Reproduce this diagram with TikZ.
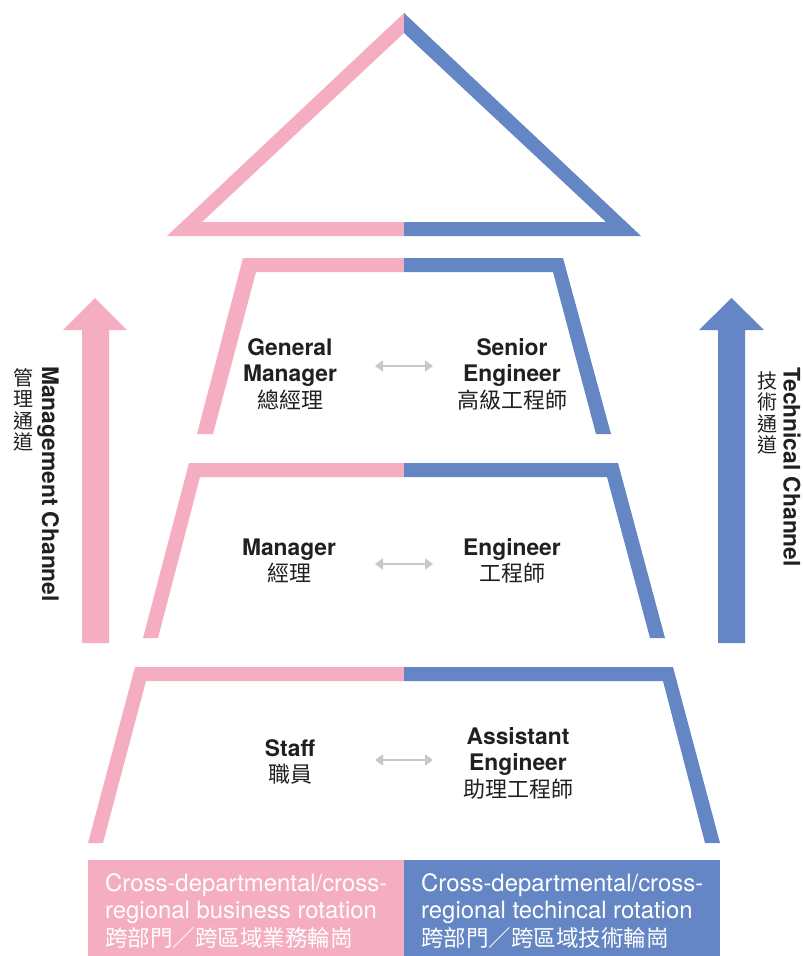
\documentclass[tikz,border=0pt]{standalone}
\usepackage{fontspec}
\setmainfont{TeX Gyre Heros}
\newfontfamily\cjk{Noto Sans CJK TC}
\usetikzlibrary{arrows.meta}
\definecolor{pinkc}{RGB}{244,173,193}
\definecolor{bluec}{RGB}{100,134,196}
\definecolor{txt}{RGB}{35,31,32}
\definecolor{grayarr}{RGB}{200,200,200}
\newcommand{\lblcjk}[1]{{\fontsize{22}{26.5}\selectfont\cjk\mdseries #1}}
\newcommand{\boxcjk}[1]{{\fontsize{22.5}{27.5}\selectfont\cjk #1}}
\tikzset{
  lbl/.style={align=center, text=txt, font=\fontsize{22.8}{26.5}\selectfont\bfseries, inner sep=0pt},
  boxtxt/.style={align=left, text=white, font=\fontsize{23.9}{27.5}\selectfont, inner sep=0pt, anchor=west},
  vtxt/.style={text=txt, font=\fontsize{22.8}{26}\selectfont\bfseries, rotate=-90, inner sep=0pt},
  vcjk/.style={align=center, text=txt, font=\fontsize{20}{21.5}\selectfont\cjk, inner sep=0pt},
  swap/.style={grayarr, line width=1.5pt, {Triangle[length=8pt,width=11pt]}-{Triangle[length=8pt,width=11pt]}}
}
\begin{document}
\begin{tikzpicture}[x=1pt,y=-1pt]
\path[use as bounding box] (0,0) rectangle (803,956);
% roof triangle
\fill[pinkc] (404,13) -- (167,236) -- (404,236) -- (404,222) -- (202,222) -- (404,33) -- cycle;
\fill[bluec] (404,13) -- (641,236) -- (404,236) -- (404,222) -- (606,222) -- (404,33) -- cycle;
% top trapezoid
\fill[pinkc] (404,258) -- (243,258) -- (197,434) -- (213,434) -- (256,272) -- (404,272) -- cycle;
\fill[bluec] (404,258) -- (563,258) -- (611,434) -- (596,434) -- (553,272) -- (404,272) -- cycle;
% middle trapezoid
\fill[pinkc] (404,463) -- (189,463) -- (143,638) -- (158,638) -- (200,477) -- (404,477) -- cycle;
\fill[bluec] (404,463) -- (618,463) -- (665,638) -- (650,638) -- (607,477) -- (404,477) -- cycle;
% bottom trapezoid
\fill[pinkc] (404,667) -- (135,667) -- (88,843) -- (103,843) -- (146,681) -- (404,681) -- cycle;
\fill[bluec] (404,667) -- (673,667) -- (720,843) -- (705,843) -- (663,681) -- (404,681) -- cycle;
% channel arrows
\fill[pinkc] (82,643) -- (82,330) -- (63,330) -- (95,298) -- (127,330) -- (109,330) -- (109,643) -- cycle;
\fill[bluec] (718,643) -- (718,330) -- (699,330) -- (731.5,298) -- (764,330) -- (745,330) -- (745,643) -- cycle;
% bottom boxes
\fill[pinkc] (88,860) rectangle (404,956);
\fill[bluec] (404,860) rectangle (720,956);
% labels
\node[lbl] (gm) at (290,374) {General\\Manager\\\lblcjk{總經理}};
\node[lbl] (se) at (512,374) {Senior\\Engineer\\\lblcjk{高級工程師}};
\node[lbl] (mg) at (289,561) {Manager\\\lblcjk{經理}};
\node[lbl] (en) at (512,561) {Engineer\\\lblcjk{工程師}};
\node[lbl] (st) at (290,762) {Staff\\\lblcjk{職員}};
\node[lbl] (ae) at (518,763) {Assistant\\Engineer\\\lblcjk{助理工程師}};
% swap arrows
\coordinate (s1l) at (375,366); \coordinate (s1r) at (433,366);
\coordinate (s2l) at (375,564); \coordinate (s2r) at (433,564);
\coordinate (s3l) at (375,760); \coordinate (s3r) at (433,760);
\draw[swap] (s1l) -- (s1r);
\draw[swap] (s2l) -- (s2r);
\draw[swap] (s3l) -- (s3r);
% channel labels
\node[vtxt] (mc) at (48,484) {Management Channel};
\node[vcjk] (mcz) at (23,410) {管\\理\\通\\道};
\node[vtxt] (tc) at (792,467) {Technical Channel};
\node[vcjk] (tcz) at (767,413) {技\\術\\通\\道};
% box texts
\node[boxtxt] (bl) at (105,911) {Cross-departmental/cross-\\regional business rotation\\\boxcjk{跨部門／跨區域業務輪崗}};
\node[boxtxt] (br) at (421,911) {Cross-departmental/cross-\\regional techincal rotation\\\boxcjk{跨部門／跨區域技術輪崗}};
\end{tikzpicture}
\end{document}
